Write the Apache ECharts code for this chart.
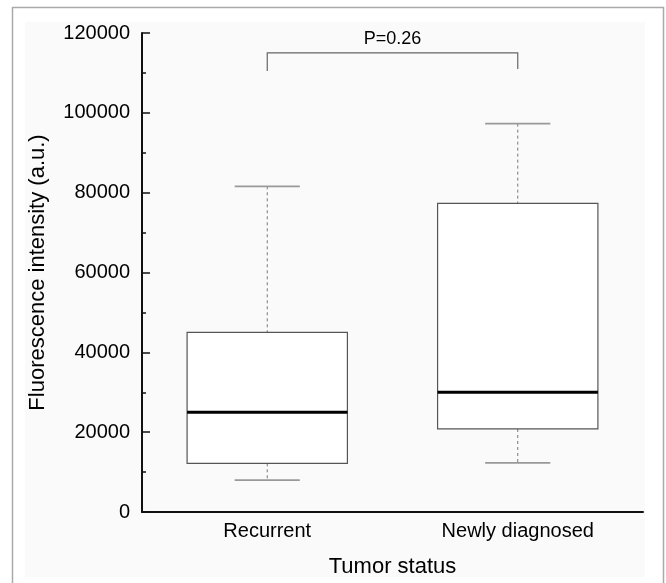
<!DOCTYPE html>
<html>
<head>
<meta charset="utf-8">
<style>
  html, body { margin: 0; padding: 0; background: #fff; }
  #chart { width: 666px; height: 583px; }
</style>
<script src="https://cdn.jsdelivr.net/npm/echarts@6/dist/echarts.min.js"></script>
</head>
<body>
<div id="chart"></div>
<script>
// categories and box stats: [min, Q1, median, Q3, max]
const categories = ["Recurrent", "Newly diagnosed"];
const boxMin = [8000, 12300];
const boxQ1 = [12200, 20800];
const boxMedian = [25000, 30000];
const boxQ3 = [45000, 77300];
const boxMax = [81600, 97300];

// significance bracket
const bracketTop = 115000;
const bracketEnds = [110500, 111000];
const pLabel = "P=0.26";

const FONT = "'Liberation Sans', Arial, sans-serif";

const boxData = categories.map((c, i) => [i, boxMin[i], boxQ1[i], boxMedian[i], boxQ3[i], boxMax[i]]);

const chart = echarts.init(document.getElementById("chart"));

const renderBox = (params, api) => {
  const i = api.value(0);
  const bw = api.size([1, 0])[0] * 0.64;
  const capW = api.size([1, 0])[0] * 0.26;
  const pMin = api.coord([i, api.value(1)]);
  const pQ1 = api.coord([i, api.value(2)]);
  const pMed = api.coord([i, api.value(3)]);
  const pQ3 = api.coord([i, api.value(4)]);
  const pMax = api.coord([i, api.value(5)]);
  const x = pMed[0];
  const dash = { stroke: "#777", lineWidth: 1, lineDash: [3, 3] };
  const cap = { stroke: "#999", lineWidth: 1.8 };
  return {
    type: "group",
    children: [
      { type: "line", shape: { x1: x, y1: pMax[1], x2: x, y2: pQ3[1] }, style: dash },
      { type: "line", shape: { x1: x, y1: pQ1[1], x2: x, y2: pMin[1] }, style: dash },
      { type: "line", shape: { x1: x - capW / 2, y1: pMax[1], x2: x + capW / 2, y2: pMax[1] }, style: cap },
      { type: "line", shape: { x1: x - capW / 2, y1: pMin[1], x2: x + capW / 2, y2: pMin[1] }, style: cap },
      {
        type: "rect",
        shape: { x: x - bw / 2, y: pQ3[1], width: bw, height: pQ1[1] - pQ3[1] },
        style: { fill: "#fff", stroke: "#555", lineWidth: 1.2 },
      },
      { type: "line", shape: { x1: x - bw / 2, y1: pMed[1], x2: x + bw / 2, y2: pMed[1] }, style: { stroke: "#000", lineWidth: 3 } },
    ],
  };
};

const renderBracket = (params, api) => {
  const a = api.coord([0, bracketEnds[0]]);
  const b = api.coord([1, bracketEnds[1]]);
  const t0 = api.coord([0, bracketTop]);
  const t1 = api.coord([1, bracketTop]);
  return {
    type: "group",
    children: [
      {
        type: "polyline",
        shape: { points: [a, t0, t1, b] },
        style: { stroke: "#666", lineWidth: 1.2, fill: null },
      },
      {
        type: "text",
        x: (t0[0] + t1[0]) / 2,
        y: t0[1] - 5,
        style: { text: pLabel, fill: "#000", font: "18px " + FONT, align: "center", verticalAlign: "bottom" },
      },
    ],
  };
};

const option = {
  animation: false,
  textStyle: { fontFamily: FONT },
  graphic: [
    { type: "rect", shape: { x: 12.5, y: 7.5, width: 651, height: 600 }, style: { fill: "#fff", stroke: "#aaa", lineWidth: 1.5 }, z: -10 },
    { type: "rect", shape: { x: 25, y: 22, width: 620, height: 555 }, style: { fill: "#fafafa" }, z: -9 },
  ],
  grid: { left: 142, right: 23, top: 33, bottom: 71 },
  xAxis: {
    type: "category",
    data: categories,
    name: "Tumor status",
    nameLocation: "middle",
    nameGap: 44,
    nameTextStyle: { fontSize: 22, color: "#000", fontFamily: FONT },
    axisLine: { lineStyle: { color: "#111", width: 2 } },
    axisTick: { show: false },
    axisLabel: { fontSize: 20, color: "#000", margin: 9, fontFamily: FONT },
  },
  yAxis: {
    type: "value",
    min: 0,
    max: 120000,
    interval: 20000,
    name: "Fluorescence intensity (a.u.)",
    nameLocation: "middle",
    nameGap: 93,
    nameTextStyle: { fontSize: 22, color: "#000", fontFamily: FONT },
    axisLine: { show: true, lineStyle: { color: "#111", width: 2 } },
    axisTick: { show: true, inside: true, length: 8, lineStyle: { color: "#111", width: 1.5 } },
    minorTick: { show: true, splitNumber: 2, length: 4, lineStyle: { color: "#111", width: 1.5 } },
    splitLine: { show: false },
    axisLabel: { fontSize: 20, color: "#000", margin: 12, fontFamily: FONT, formatter: (v) => String(v) },
  },
  series: [
    { type: "custom", renderItem: renderBox, data: boxData, encode: { x: 0, y: [1, 2, 3, 4, 5] } },
    { type: "custom", renderItem: renderBracket, data: [[0, bracketTop]], encode: { x: 0, y: 1 }, z: 3 },
  ],
};

chart.setOption(option);
</script>
</body>
</html>
